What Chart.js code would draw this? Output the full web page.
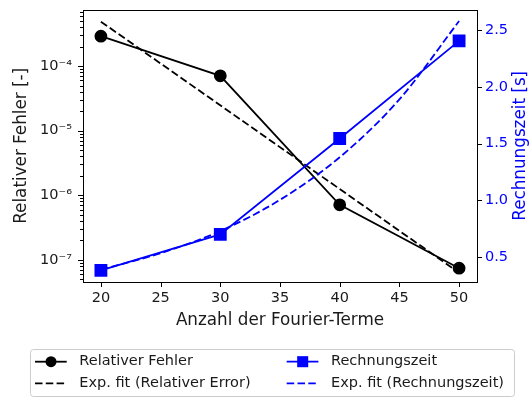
<!DOCTYPE html>
<html>
<head>
<meta charset="utf-8">
<script src="https://cdn.jsdelivr.net/npm/chart.js@4"></script>
<style>
  body { margin: 0; background: #fff; }
  canvas { display: block; }
</style>
</head>
<body>
<canvas id="chart" width="529" height="398"></canvas>
<script>
// measured values per number of Fourier terms
const terms = [20, 30, 40, 50];
const relError = [2.92e-4, 7.1e-5, 7.1e-7, 7.4e-8];
const runtime = [0.384, 0.70, 1.545, 2.405];

// exponential fit curves
const errorFitX = [20, 50];
const errorFitY = [4.9e-4, 6.3e-8];
const timeFitX = [20, 25, 30, 35, 40, 45, 50];
const timeFitY = [0.39, 0.535, 0.73, 1.005, 1.38, 1.89, 2.58];

// axis ticks
const xTicks = [20, 25, 30, 35, 40, 45, 50];
const errorTicks = [1e-7, 1e-6, 1e-5, 1e-4];
const timeTicks = [0.5, 1.0, 1.5, 2.0, 2.5];

const seriesLabels = ['Relativer Fehler', 'Exp. fit (Relativer Error)', 'Rechnungszeit', 'Exp. fit (Rechnungszeit)'];
const xTitle = 'Anzahl der Fourier-Terme';
const yTitle = 'Relativer Fehler [-]';
const y1Title = 'Rechnungszeit [s]';

const FONT = 'DejaVu Sans';
const TEXT = '#1a1a1a';
const BLUE = '#0000ff';
const DASH = [7.5, 3.3];

const toPoints = (xs, ys) => xs.map((x, i) => ({ x: x, y: ys[i] }));

const SUP = { '-': '\u207B', '0': '\u2070', '1': '\u00B9', '2': '\u00B2', '3': '\u00B3',
  '4': '\u2074', '5': '\u2075', '6': '\u2076', '7': '\u2077', '8': '\u2078', '9': '\u2079' };
const powerLabel = v => '10' + String(Math.round(Math.log10(v))).split('').map(c => SUP[c]).join('');

// fixed axis sizes, no extra room for overhanging labels
const fixSize = (w, h) => s => {
  if (w !== null) s.width = w;
  if (h !== null) s.height = h;
  s.paddingTop = 0; s.paddingBottom = 0;
  s.paddingLeft = 0; s.paddingRight = 0;
};

// frame, tick marks, rotated right title and the boxed legend
const decorations = {
  id: 'decorations',
  afterDatasetsDraw(chart) {
    const ctx = chart.ctx;
    const a = chart.chartArea;
    const { x, y, y1 } = chart.scales;
    ctx.save();
    ctx.strokeStyle = '#000';
    ctx.lineWidth = 1;

    ctx.beginPath();
    x.ticks.forEach(t => {
      const px = Math.round(x.getPixelForValue(t.value)) + 0.5;
      ctx.moveTo(px, a.bottom); ctx.lineTo(px, a.bottom + 5);
    });
    y1.ticks.forEach(t => {
      const py = Math.round(y1.getPixelForValue(t.value)) + 0.5;
      ctx.moveTo(a.right, py); ctx.lineTo(a.right + 5, py);
    });
    const lo = Math.floor(Math.log10(y.min));
    const hi = Math.ceil(Math.log10(y.max));
    for (let e = lo; e <= hi; e++) {
      for (let k = 1; k <= 9; k++) {
        const v = k * Math.pow(10, e);
        if (v < y.min || v > y.max) continue;
        const py = Math.round(y.getPixelForValue(v)) + 0.5;
        ctx.moveTo(a.left, py); ctx.lineTo(a.left - (k === 1 ? 5 : 3), py);
      }
    }
    ctx.stroke();

    ctx.strokeRect(Math.round(a.left) + 0.5, Math.round(a.top) + 0.5,
      Math.round(a.right - a.left), Math.round(a.bottom - a.top));

    // right axis title, reading bottom to top
    ctx.save();
    ctx.translate(520.5, (a.top + a.bottom) / 2);
    ctx.rotate(-Math.PI / 2);
    ctx.font = '16.8px "' + FONT + '"';
    ctx.fillStyle = BLUE;
    ctx.textAlign = 'center';
    ctx.textBaseline = 'middle';
    ctx.fillText(y1Title, 0, 0);
    ctx.restore();

    // legend box
    ctx.beginPath();
    ctx.roundRect(30.5, 349.5, 484, 47, 3);
    ctx.fillStyle = 'rgba(255,255,255,0.8)';
    ctx.fill();
    ctx.strokeStyle = '#cccccc';
    ctx.stroke();

    const cols = [35, 286.7];
    const rows = [361.7, 383.3];
    ctx.font = '14.5px "' + FONT + '"';
    ctx.textBaseline = 'middle';
    ctx.textAlign = 'left';
    chart.data.datasets.forEach((ds, i) => {
      const cx = cols[Math.floor(i / 2)];
      const cy = rows[i % 2];
      ctx.save();
      ctx.strokeStyle = ds.borderColor;
      ctx.lineWidth = ds.borderWidth;
      ctx.setLineDash(ds.borderDash || []);
      ctx.beginPath();
      ctx.moveTo(cx, cy); ctx.lineTo(cx + 31.7, cy);
      ctx.stroke();
      ctx.setLineDash([]);
      ctx.fillStyle = ds.borderColor;
      if (ds.pointStyle === 'circle') {
        ctx.beginPath();
        ctx.arc(cx + 16, cy, ds.pointRadius, 0, Math.PI * 2);
        ctx.fill();
      } else if (ds.pointStyle === 'rect') {
        const s = ds.pointRadius * Math.SQRT1_2;
        ctx.fillRect(cx + 16 - s, cy - s, 2 * s, 2 * s);
      }
      ctx.restore();
      ctx.fillStyle = TEXT;
      ctx.fillText(ds.label, cx + 44.3, cy);
    });
    ctx.restore();
  }
};

new Chart(document.getElementById('chart'), {
  type: 'line',
  data: {
    datasets: [
      {
        label: seriesLabels[0],
        data: toPoints(terms, relError),
        yAxisID: 'y',
        borderColor: '#000',
        backgroundColor: '#000',
        borderWidth: 1.8,
        pointStyle: 'circle',
        pointRadius: 5.5,
        order: 4
      },
      {
        label: seriesLabels[1],
        data: toPoints(errorFitX, errorFitY),
        yAxisID: 'y',
        borderColor: '#000',
        borderWidth: 1.8,
        borderDash: DASH,
        pointRadius: 0,
        order: 3
      },
      {
        label: seriesLabels[2],
        data: toPoints(terms, runtime),
        yAxisID: 'y1',
        borderColor: BLUE,
        backgroundColor: BLUE,
        borderWidth: 1.8,
        pointStyle: 'rect',
        pointRadius: 7.8,
        order: 2
      },
      {
        label: seriesLabels[3],
        data: toPoints(timeFitX, timeFitY),
        yAxisID: 'y1',
        borderColor: BLUE,
        borderWidth: 1.8,
        borderDash: DASH,
        pointRadius: 0,
        cubicInterpolationMode: 'monotone',
        order: 1
      }
    ]
  },
  options: {
    responsive: false,
    animation: false,
    devicePixelRatio: 1,
    layout: { padding: { top: 7, bottom: 64, left: 0, right: 0 } },
    plugins: { legend: { display: false }, tooltip: { enabled: false } },
    scales: {
      x: {
        type: 'linear',
        min: 18.5,
        max: 51.5,
        afterBuildTicks: s => { s.ticks = xTicks.map(v => ({ value: v })); },
        afterFit: fixSize(null, 52),
        grid: { display: false, drawTicks: false },
        border: { display: false },
        ticks: { padding: 8, autoSkip: false, maxRotation: 0, color: TEXT, font: { family: FONT, size: 14.5 } },
        title: { display: true, text: xTitle, color: TEXT, font: { family: FONT, size: 16.8 }, padding: { top: 0, bottom: 3 } }
      },
      y: {
        type: 'logarithmic',
        position: 'left',
        min: Math.pow(10, -7.345),
        max: Math.pow(10, -3.123),
        afterBuildTicks: s => { s.ticks = errorTicks.map(v => ({ value: v })); },
        afterFit: fixSize(83, null),
        grid: { display: false, drawTicks: false },
        border: { display: false },
        ticks: { padding: 11, autoSkip: false, color: TEXT, font: { family: FONT, size: 14.5 }, callback: v => powerLabel(v) },
        title: { display: true, text: yTitle, color: TEXT, font: { family: FONT, size: 16.8 }, padding: { top: 11.4, bottom: 0 } }
      },
      y1: {
        type: 'linear',
        position: 'right',
        min: 0.281,
        max: 2.681,
        afterBuildTicks: s => { s.ticks = timeTicks.map(v => ({ value: v })); },
        afterFit: fixSize(52, null),
        grid: { display: false, drawTicks: false },
        border: { display: false },
        ticks: { padding: 8, autoSkip: false, color: BLUE, font: { family: FONT, size: 14.5 }, callback: v => v.toFixed(1) }
      }
    }
  },
  plugins: [decorations]
});
</script>
</body>
</html>
